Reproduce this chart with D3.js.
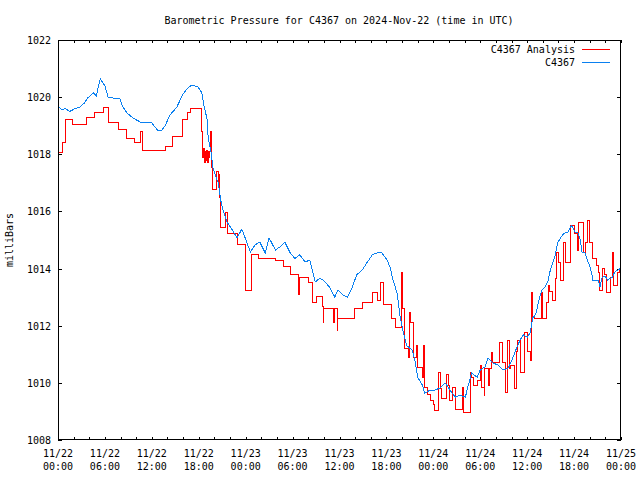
<!DOCTYPE html>
<html>
<head>
<meta charset="utf-8">
<script src="https://cdn.jsdelivr.net/npm/d3@7"></script>
<style>
  html, body { margin: 0; padding: 0; background: #fff; }
  svg { display: block; font-family: "DejaVu Sans Mono", "Liberation Mono", monospace; }
</style>
</head>
<body>
<svg id="chart" width="640" height="480"></svg>
<script>
// ---- Data (hours since 2024-11-22 00:00 UTC, pressure in mb) ----
const analysisHours = [0,0.6,0.9,1.8,3.7,4.7,5.8,6.5,7.7,8.8,9.8,10.6,10.8,11.1,13.7,14.7,15.9,16.6,16.9,18.4,
  18.5,18.6,18.7,18.8,18.9,19.0,19.1,19.2,19.3,19.4,19.5,19.6,19.8,20.3,20.5,20.6,20.7,20.8,21.4,21.7,22.9,24.0,
  24.8,25.7,27.8,28.8,29.7,30.7,30.9,32.0,32.6,33.0,33.8,33.9,34.0,35.2,35.3,35.7,35.8,37.9,39.0,40.2,40.8,41.2,
  41.6,42.7,43.1,43.9,44.0,44.3,44.8,44.9,45.1,45.4,45.5,45.9,46.0,46.6,46.8,46.9,47.3,47.6,48.0,48.1,48.7,48.9,
  49.1,49.7,49.9,50.1,50.5,50.8,51.7,51.8,52.7,52.9,53.2,53.6,54.0,54.1,54.5,54.6,55.0,55.2,55.5,55.6,56.0,56.5,
  56.8,57.2,57.5,57.7,57.9,58.4,58.6,58.8,59.1,59.7,60.0,60.4,60.6,60.7,61.0,61.8,61.9,62.5,62.7,62.9,63.2,63.6,
  63.7,64.0,64.2,64.6,64.9,65.6,66.1,66.4,66.5,66.6,67.2,67.5,67.7,68.0,68.3,68.4,68.9,69.1,69.2,69.3,69.6,69.9,
  70.2,70.6,70.9,71.0,71.5,71.8,72.0];
const analysisValues = [1018.08,1018.43,1019.23,1019.03,1019.3,1019.48,1019.65,1019.1,1018.88,1018.57,1018.4,1018.8,1018.15,1018.15,1018.28,1018.64,1019.23,1019.48,1019.6,1018.8,
  1017.9,1018.2,1017.7,1018.1,1017.8,1018.15,1017.7,1018.1,1017.9,1018.1,1018.8,1017.55,1016.78,1017.4,1016.9,1017.3,1016.5,1015.45,1015.95,1015.24,1014.83,1013.25,
  1014.48,1014.37,1014.3,1014.06,1013.8,1013.08,1013.7,1013.53,1012.8,1013.04,1012.66,1012.1,1012.6,1012.13,1012.6,1011.85,1012.27,1012.62,1012.83,1013.15,1012.9,1013.5,
  1012.73,1012.27,1011.95,1013.85,1012.6,1011.2,1010.9,1012.48,1012.1,1011.5,1010.9,1011.3,1010.55,1010.2,1011.3,1009.85,1009.6,1009.4,1009.25,1009.05,1010.38,1009.8,
  1009.47,1010.3,1009.9,1009.4,1009.85,1009.08,1009.85,1008.95,1010.38,1010.2,1009.9,1010.1,1010.62,1009.85,1009.57,1010.52,1009.9,1010.52,1011.05,1010.7,1010.7,1011.4,
  1010.7,1009.68,1011.5,1010.5,1010.6,1009.82,1011.1,1011.5,1010.38,1011.78,1011.1,1010.8,1013.18,1012.3,1012.27,1013.18,1012.27,1012.83,1013.42,1013.2,1012.9,1013.67,
  1014.55,1014.2,1013.6,1014.93,1014.2,1015.52,1015.24,1014.9,1014.65,1015.6,1014.58,1014.9,1015.7,1014.9,1014.55,1014.37,1014.12,1013.85,1013.6,1013.25,1014.02,1013.8,
  1013.18,1013.7,1014.55,1013.42,1013.85,1014.0,1013.85];

const obsHours = [0,0.6,0.9,1.5,2.2,2.8,3.4,3.8,4.5,4.9,5.4,6.0,6.4,7.0,7.9,8.2,8.8,9.6,10.7,12.0,12.7,13.3,13.7,14.3,15.2,15.9,
  16.6,17.1,17.9,18.4,18.7,19.1,19.2,19.6,19.8,20.2,20.5,20.8,21.1,21.6,22.3,22.9,23.5,23.9,24.6,25.2,25.8,26.5,27.0,27.8,28.4,
  29.0,29.7,30.3,30.9,31.6,32.2,32.6,32.9,33.5,34.1,34.8,35.4,35.8,36.4,37.0,37.6,38.2,38.9,39.5,40.2,40.8,41.4,42.1,42.5,42.8,
  43.4,43.7,44.1,44.6,45.3,45.7,46.0,46.6,46.9,47.6,48.2,48.9,49.5,49.9,50.4,50.8,51.4,52.1,52.4,52.9,53.6,54.0,54.6,55.0,55.6,
  56.3,56.9,57.6,58.2,58.7,59.1,59.5,60.0,60.4,60.7,61.1,61.5,61.9,62.3,62.7,62.9,63.3,63.6,63.9,64.5,64.8,65.2,65.7,66.1,66.5,
  66.8,67.0,67.4,67.8,68.0,68.3,68.4,69.1,69.3,69.6,70.0,70.3,70.9,71.2,71.6,72.0];
const obsValues = [1019.67,1019.55,1019.6,1019.5,1019.6,1019.65,1019.8,1019.97,1020.15,1020.05,1020.64,1020.4,1020.0,1019.97,1019.97,1019.7,1019.45,1019.27,1019.1,1019.1,1018.85,1018.85,1019.0,1019.37,1019.65,1020.07,
  1020.32,1020.42,1020.36,1020.15,1019.65,1019.2,1018.6,1018.05,1017.55,1017.2,1017.0,1016.4,1016.05,1015.63,1015.35,1015.07,1015.38,1015.1,1014.58,1014.83,1014.93,1014.55,1015.07,1014.65,1014.76,
  1014.93,1014.55,1014.35,1014.48,1014.23,1014.3,1013.85,1013.53,1013.67,1013.55,1013.32,1013.0,1013.25,1013.08,1013.0,1013.32,1013.78,1013.95,1014.2,1014.48,1014.55,1014.55,1014.3,1014.02,1013.65,
  1013.1,1012.4,1011.85,1011.3,1011.15,1010.7,1010.2,1009.92,1009.64,1009.75,1009.75,1009.82,1010.0,1009.85,1009.64,1009.5,1009.57,1009.5,1009.85,1010.34,1010.2,1010.45,1010.56,1010.87,1010.7,
  1010.62,1010.45,1010.52,1010.9,1011.26,1011.5,1011.68,1011.6,1011.75,1012.27,1012.4,1012.9,1013.25,1013.35,1013.6,1013.88,1014.23,1014.48,1014.9,1015.17,1015.24,1015.28,1015.52,1015.28,1015.24,
  1015.0,1014.58,1014.55,1014.23,1014.1,1013.78,1013.6,1013.6,1013.35,1013.7,1013.72,1013.6,1013.7,1013.88,1013.95,1014.02];

const yTicks = [1008,1010,1012,1014,1016,1018,1020,1022];
const xTickHours = [0,6,12,18,24,30,36,42,48,54,60,66,72];
const xTickDays = ["11/22","11/22","11/22","11/22","11/23","11/23","11/23","11/23","11/24","11/24","11/24","11/24","11/25"];
const xTickTimes = ["00:00","06:00","12:00","18:00","00:00","06:00","12:00","18:00","00:00","06:00","12:00","18:00","00:00"];
const seriesNames = ["C4367 Analysis","C4367"];
const seriesColors = ["#ff0000","#0a80f0"];
const titleText = "Barometric Pressure for C4367 on 2024-Nov-22 (time in UTC)";
const yLabel = "milliBars";

// ---- Layout ----
const L = 58, R = 621, T = 40, B = 440;
const t0 = Date.UTC(2024, 10, 22, 0, 0);
const toDate = h => new Date(t0 + h * 3600e3);

const svg = d3.select("#chart");
const x = d3.scaleUtc().domain([toDate(0), toDate(72)]).range([L, R]);
const y = d3.scaleLinear().domain([1008, 1022]).range([B, T]);

const fontSize = "10px";

svg.append("defs").append("clipPath").attr("id", "clip")
  .append("rect").attr("x", L).attr("y", T).attr("width", R - L).attr("height", B - T);

const majorDates = xTickHours.map(toDate);
const minorDates = d3.range(0, 73, 2).map(toDate);

function styleAxis(g) {
  g.select(".domain").remove();
  g.selectAll(".tick line").attr("stroke", "#000").attr("shape-rendering", "crispEdges");
  g.selectAll("text").attr("fill", "#000").style("font-size", fontSize)
    .style("font-family", '"DejaVu Sans Mono", monospace');
}

// bottom ticks
const gB = svg.append("g").attr("transform", `translate(0,${B})`)
  .call(d3.axisBottom(x).tickValues(minorDates).tickSize(-3).tickFormat(""));
styleAxis(gB);
// bottom two-line labels
const labG = svg.append("g").style("font-size", fontSize).attr("text-anchor", "middle");
labG.selectAll("text.day").data(majorDates).join("text").attr("class", "day")
  .attr("x", d => x(d)).attr("y", 457).text((d, i) => xTickDays[i]);
labG.selectAll("text.time").data(majorDates).join("text").attr("class", "time")
  .attr("x", d => x(d)).attr("y", 470).text((d, i) => xTickTimes[i]);
// top
const gT = svg.append("g").attr("transform", `translate(0,${T})`)
  .call(d3.axisTop(x).tickValues(minorDates).tickSize(-3).tickFormat(""));
styleAxis(gT);
// left
const gL = svg.append("g").attr("transform", `translate(${L},0)`)
  .call(d3.axisLeft(y).tickValues(yTicks).tickSize(-4).tickPadding(7).tickFormat(d3.format("d")));
styleAxis(gL);
gL.selectAll(".tick text").attr("dy", "0.35em");
// right
const gR = svg.append("g").attr("transform", `translate(${R},0)`)
  .call(d3.axisRight(y).tickValues(yTicks).tickSize(-4).tickFormat(""));
styleAxis(gR);

// series
const analysis = analysisHours.map((h, i) => [toDate(h), analysisValues[i]]);
const obs = obsHours.map((h, i) => [toDate(h), obsValues[i]]);

const plot = svg.append("g").attr("clip-path", "url(#clip)");
plot.append("path").datum(analysis)
  .attr("fill", "none").attr("stroke", seriesColors[0]).attr("stroke-width", 1)
  .attr("shape-rendering", "crispEdges")
  .attr("d", d3.line().x(d => x(d[0])).y(d => y(d[1])).curve(d3.curveStepAfter));
plot.append("path").datum(obs)
  .attr("fill", "none").attr("stroke", seriesColors[1]).attr("stroke-width", 1)
  .attr("shape-rendering", "crispEdges")
  .attr("d", d3.line().x(d => x(d[0])).y(d => y(d[1])));

// border
svg.append("rect").attr("x", L + 0.5).attr("y", T + 0.5).attr("width", R - L - 1).attr("height", B - T - 1)
  .attr("fill", "none").attr("stroke", "#000").attr("shape-rendering", "crispEdges");

// title
svg.append("text").attr("x", 339).attr("y", 24).attr("text-anchor", "middle")
  .style("font-size", fontSize).text(titleText);

// y label
svg.append("text").attr("transform", "translate(13,240) rotate(-90)").attr("text-anchor", "middle")
  .style("font-size", fontSize).text(yLabel);

// legend
seriesNames.forEach((name, i) => {
  const ly = 49 + i * 13;
  svg.append("text").attr("x", 575).attr("y", ly + 4).attr("text-anchor", "end")
    .style("font-size", fontSize).text(name);
  svg.append("line").attr("x1", 582).attr("x2", 610).attr("y1", ly + 0.5).attr("y2", ly + 0.5)
    .attr("stroke", seriesColors[i]).attr("shape-rendering", "crispEdges");
});
</script>
</body>
</html>
